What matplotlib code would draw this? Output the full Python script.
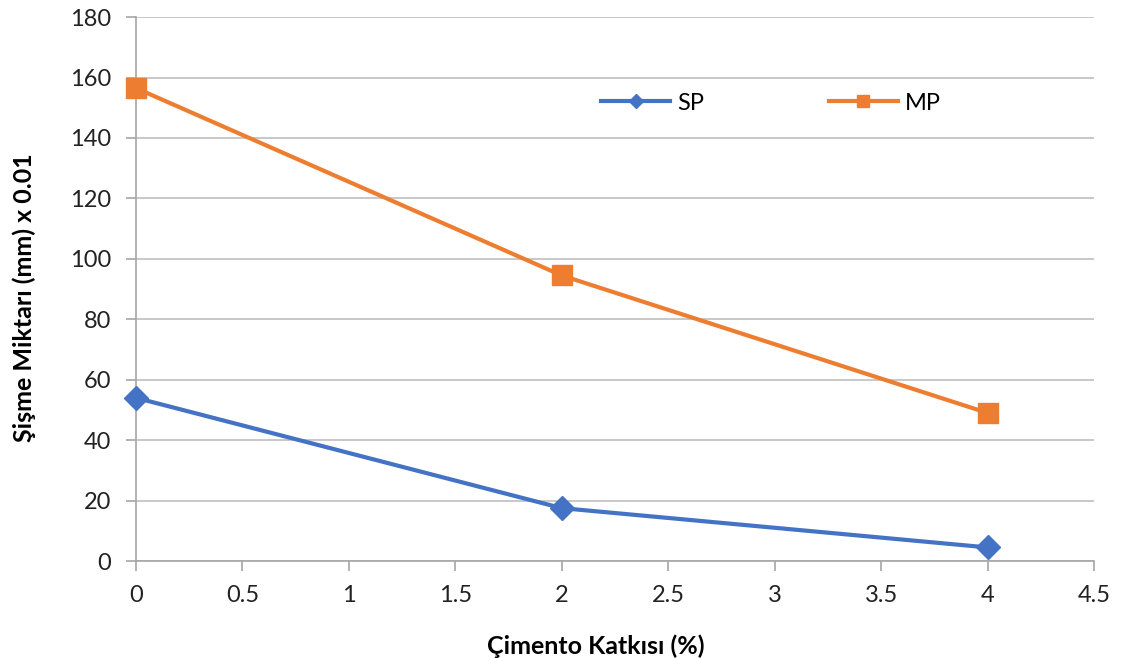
import matplotlib.pyplot as plt

# values
katki = [0, 2, 4]
sp = [54, 17.5, 4.5]
mp = [156.5, 94.5, 49]

x_ticks = [0, 0.5, 1, 1.5, 2, 2.5, 3, 3.5, 4, 4.5]
x_tick_labels = ['0', '0.5', '1', '1.5', '2', '2.5', '3', '3.5', '4', '4.5']
y_ticks = [0, 20, 40, 60, 80, 100, 120, 140, 160, 180]

plt.rcParams['font.family'] = ['Lato', 'DejaVu Sans']

fig = plt.figure(figsize=(11.22, 6.58), dpi=100)
ax = fig.add_axes([0.1212, 0.1474, 0.975 - 0.1212, 0.974 - 0.1474])

ax.plot(katki, sp, color='#4472C4', lw=3, marker='D', markersize=12, label='SP',
        zorder=3, clip_on=False)
ax.plot(katki, mp, color='#ED7D31', lw=3, marker='s', markersize=15, label='MP',
        zorder=3, clip_on=False)

ax.set_xlim(0, 4.5)
ax.set_ylim(0, 180)
ax.set_xticks(x_ticks)
ax.set_xticklabels(x_tick_labels)
ax.set_yticks(y_ticks)

ax.grid(axis='y', color='#BFBFBF', lw=1.2)
ax.set_axisbelow(True)
for s in ['top', 'right']:
    ax.spines[s].set_visible(False)
for s in ['left', 'bottom']:
    ax.spines[s].set_color('#A6A6A6')
    ax.spines[s].set_linewidth(1.2)
ax.tick_params(axis='both', colors='#A6A6A6', labelcolor='#222222', labelsize=17,
               length=7, width=1.2, direction='out')
ax.tick_params(axis='x', pad=10)
ax.tick_params(axis='y', pad=11)

ax.set_xlabel('Çimento Katkısı (%)', fontsize=18, fontweight='bold', labelpad=18)
ax.xaxis.set_label_coords(0.48, -0.135)
ax.set_ylabel('Şişme Miktarı (mm) x 0.01', fontsize=18, fontweight='bold', labelpad=24)
ax.yaxis.label.set_y(0.485)

leg = ax.legend(loc='center', bbox_to_anchor=(0.663, 0.842), ncol=2, frameon=False,
                fontsize=17, markerscale=0.6, handlelength=2.9, columnspacing=5.3,
                handletextpad=0.3)

fig.savefig('out.png', dpi=100)
